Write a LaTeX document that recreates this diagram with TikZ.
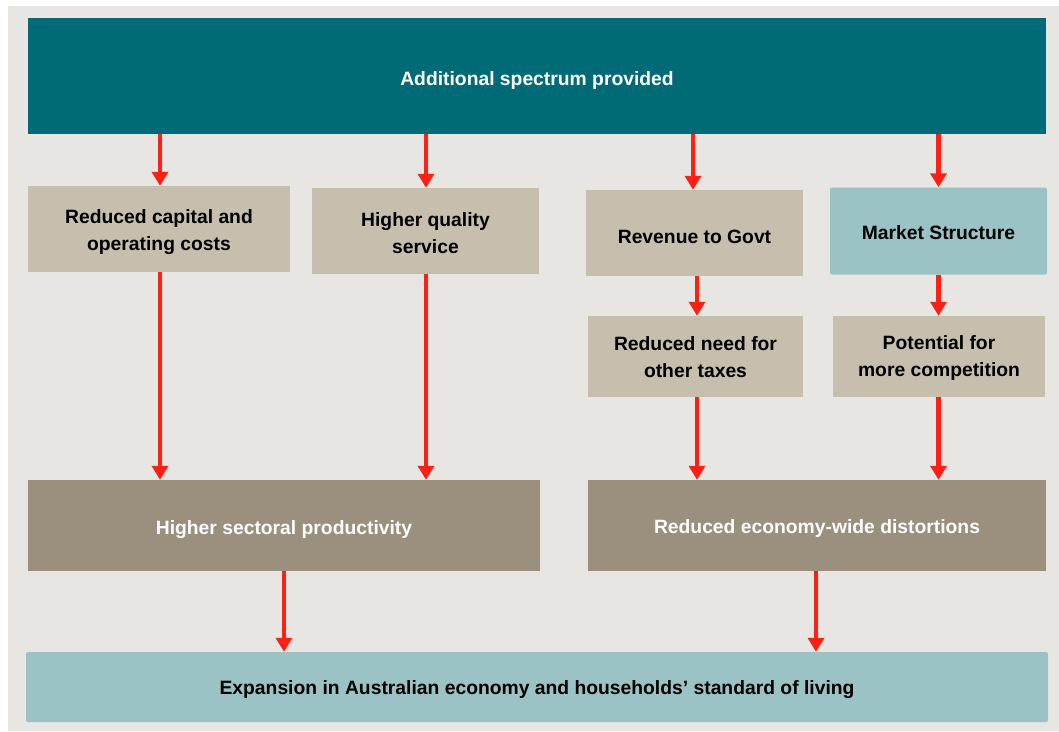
\documentclass[tikz,border=0pt]{standalone}
\usepackage{fontspec}
\setmainfont{Liberation Sans}
\usetikzlibrary{arrows.meta}
\definecolor{panel}{RGB}{232,230,226}
\definecolor{teal}{RGB}{0,107,119}
\definecolor{tan}{RGB}{198,191,173}
\definecolor{darktan}{RGB}{155,143,125}
\definecolor{lightteal}{RGB}{155,194,196}
\definecolor{arrowred}{RGB}{255,32,21}
\tikzset{
  box/.style={rectangle, inner sep=0pt},
  tanbox/.style={box, fill=tan},
  darkbox/.style={box, fill=darktan},
  tealbox/.style={box, fill=lightteal, rounded corners=2pt},
  txt/.style={inner sep=0pt, align=center, text=black, yshift=-2.5pt,
    font=\fontsize{19.3}{27}\selectfont\bfseries},
  wtxt/.style={txt, text=white},
  flow/.style={draw=arrowred, line width=4.5pt,
    -{Triangle[width=16pt,length=14pt]}},
}
\begin{document}
\begin{tikzpicture}[x=1pt,y=-1pt]
  % page and panel
  \fill[white] (0,0) rectangle (1059,731);
  \fill[panel] (8,6) rectangle (1059,731);
  \useasboundingbox (0,0) rectangle (1059,731);

  % boxes, each with its text centred inside
  \node[box, fill=teal, minimum width=1018pt, minimum height=116pt,
    label={[wtxt, yshift=-2pt]center:Additional spectrum provided}] (top) at (537,76) {};
  \node[tanbox, minimum width=262pt, minimum height=86pt,
    label={[txt, yshift=-1pt]center:{Reduced capital and\\operating costs}}] (capital) at (159,229) {};
  \node[tanbox, minimum width=227pt, minimum height=86pt,
    label={[txt]center:{Higher quality\\service}}] (quality) at (425.5,231) {};
  \node[tanbox, minimum width=217pt, minimum height=86pt,
    label={[txt, yshift=-1pt]center:Revenue to Govt}] (revenue) at (694.5,233) {};
  \node[tealbox, minimum width=217pt, minimum height=87pt,
    label={[txt, yshift=1pt]center:Market Structure}] (market) at (938.5,231) {};
  \node[tanbox, minimum width=215pt, minimum height=81pt,
    label={[txt, yshift=2pt]center:{Reduced need for\\other taxes}}] (taxes) at (695.5,356.5) {};
  \node[tanbox, minimum width=212pt, minimum height=81pt,
    label={[txt, yshift=0.5pt]center:{Potential for\\more competition}}] (compete) at (939,356.5) {};
  \node[darkbox, minimum width=512pt, minimum height=91pt,
    label={[wtxt, yshift=-2pt]center:Higher sectoral productivity}] (product) at (284,525.5) {};
  \node[darkbox, minimum width=458pt, minimum height=91pt,
    label={[wtxt, yshift=-1pt]center:Reduced economy-wide distortions}] (distort) at (817,525.5) {};
  \node[tealbox, minimum width=1022pt, minimum height=70pt,
    label={[txt]center:Expansion in Australian economy and households’ standard of living}]
    (expand) at (537,687) {};

  % connectors
  \coordinate (c160) at (160,0);
  \coordinate (c426) at (426,0);
  \coordinate (c693) at (693,0);
  \coordinate (c697) at (697,0);
  \coordinate (c938) at (938.5,0);
  \coordinate (c284) at (284,0);
  \coordinate (c816) at (816,0);
  \draw[flow] (top.south -| c160) -- (capital.north -| c160);
  \draw[flow] (top.south -| c426) -- (quality.north -| c426);
  \draw[flow] (top.south -| c693) -- (revenue.north -| c693);
  \draw[flow] (top.south -| c938) -- (market.north -| c938);
  \draw[flow] (capital.south -| c160) -- (product.north -| c160);
  \draw[flow] (quality.south -| c426) -- (product.north -| c426);
  \draw[flow] (revenue.south -| c697) -- (taxes.north -| c697);
  \draw[flow] (market.south -| c938) -- (compete.north -| c938);
  \draw[flow] (taxes.south -| c697) -- (distort.north -| c697);
  \draw[flow] (compete.south -| c938) -- (distort.north -| c938);
  \draw[flow] (product.south -| c284) -- (expand.north -| c284);
  \draw[flow] (distort.south -| c816) -- (expand.north -| c816);
\end{tikzpicture}
\end{document}
